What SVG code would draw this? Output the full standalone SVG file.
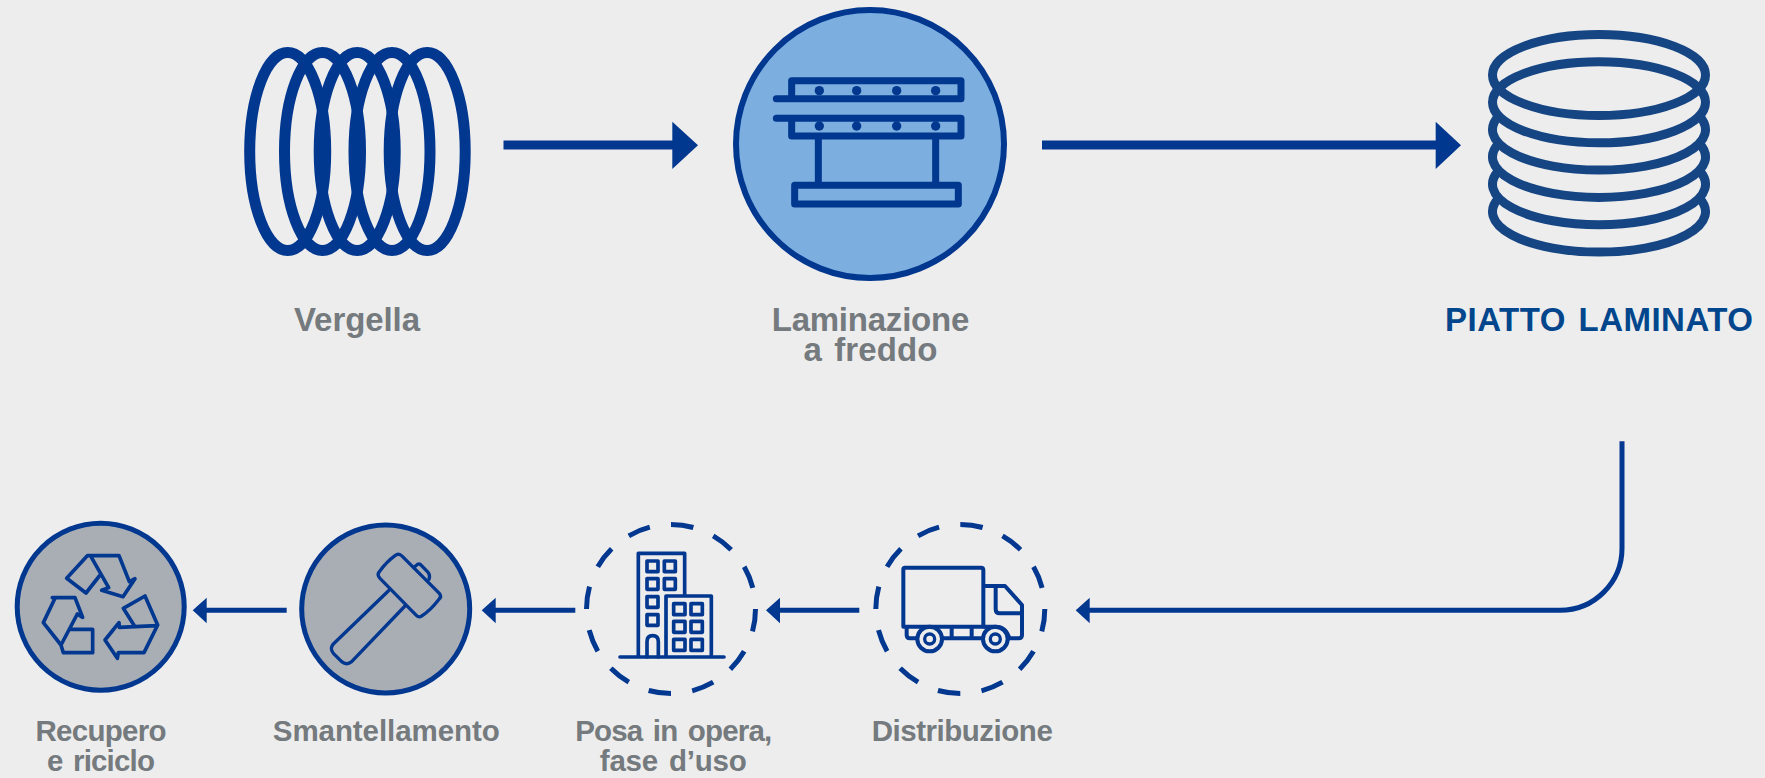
<svg xmlns="http://www.w3.org/2000/svg" width="1765" height="778" viewBox="0 0 1765 778">
<style>
text{font-family:"Liberation Sans",Arial,sans-serif;font-weight:700;fill:#747a7d;text-anchor:middle;word-spacing:3px}
.big{font-size:33px}
.small{font-size:29.5px}
.coil{fill:none;stroke:#00378f;stroke-width:11}
.plate{fill:none;stroke:#164584;stroke-width:9}
.ring{fill:#a9aeb5;stroke:#00378f;stroke-width:5}
.dash{fill:none;stroke:#00378f;stroke-width:5}
.ico{fill:none;stroke:#00378f;stroke-linejoin:round;stroke-linecap:round}
.line{fill:none;stroke:#00378f}
.head{fill:#00378f}
</style>
<rect width="1765" height="778" fill="#ededed"/>
<g id="connectors">
<path class="line" stroke-width="9" d="M503.5 145H674"/><path class="head" d="M672.3 121.7L698 145.3L672.3 169Z"/>
<path class="line" stroke-width="9" d="M1042 145H1437"/><path class="head" d="M1435.7 121.7L1461 145.3L1435.7 169Z"/>
<path class="line" stroke-width="5" d="M1622 441.3V548.3A62 62 0 0 1 1560 610.3H1088"/><path class="head" d="M1075.7 610.3L1089.7 597.7V623.3Z"/>
<path class="line" stroke-width="5" d="M859.3 610.3H778"/><path class="head" d="M766 610.3L780 597.7V623.3Z"/>
<path class="line" stroke-width="5" d="M575.3 610.3H494"/><path class="head" d="M481.7 610.3L495.7 597.7V623.3Z"/>
<path class="line" stroke-width="5" d="M286.7 610.3H205"/><path class="head" d="M192.7 610.3L206.7 597.7V623.3Z"/>
</g>
<g id="vergella">
<ellipse class="coil" cx="287.7" cy="151.5" rx="38" ry="99"/>
<ellipse class="coil" cx="322.5" cy="151.5" rx="38" ry="99"/>
<ellipse class="coil" cx="357.2" cy="151.5" rx="38" ry="99"/>
<ellipse class="coil" cx="392" cy="151.5" rx="38" ry="99"/>
<ellipse class="coil" cx="427.2" cy="151.5" rx="38" ry="99"/>
<text class="big" x="357" y="330.7" textLength="126">Vergella</text>
</g>
<g id="laminazione">
<circle cx="870" cy="144" r="134" fill="#7cafdf" stroke="#00378f" stroke-width="6"/>
<g transform="translate(700 20) scale(.33333)" class="ico" stroke-width="21">
<path d="M229 236H783M275 225V182H783V236"/>
<path d="M229 295H783M275 305V348H783V295"/>
<path stroke-linecap="butt" d="M355 348V495M707 348V495"/>
<rect x="284" y="496" width="491" height="56"/>
<g fill="#00378f" stroke="none">
<circle cx="358" cy="212" r="14"/><circle cx="470" cy="212" r="14"/><circle cx="590" cy="212" r="14"/><circle cx="707" cy="212" r="14"/>
<circle cx="358" cy="318" r="14"/><circle cx="470" cy="318" r="14"/><circle cx="590" cy="318" r="14"/><circle cx="707" cy="318" r="14"/>
</g>
</g>
<text class="big" x="870.5" y="330.7" textLength="197.6">Laminazione</text>
<text class="big" x="870.5" y="360.7" textLength="134">a freddo</text>
</g>
<g id="piatto-laminato">
<ellipse class="plate" cx="1599" cy="75" rx="106.5" ry="40.5"/>
<ellipse class="plate" cx="1599" cy="102.3" rx="106.5" ry="40.5"/>
<path class="plate" d="M1498.7 116A106.5 40.5 0 1 0 1699.3 116"/>
<path class="plate" d="M1498.7 143.3A106.5 40.5 0 1 0 1699.3 143.3"/>
<path class="plate" d="M1498.7 170.7A106.5 40.5 0 1 0 1699.3 170.7"/>
<path class="plate" d="M1498.7 198A106.5 40.5 0 1 0 1699.3 198"/>
<text class="big" x="1599" y="330.7" textLength="308" style="fill:#00468c">PIATTO LAMINATO</text>
</g>
<g id="distribuzione">
<circle class="dash" cx="960.3" cy="609" r="84.5" pathLength="360" stroke-dasharray="15.4 14.6"/>
<g transform="translate(850 510) scale(.33333)" class="ico" stroke-width="12">
<path d="M403 350H160V178Q160 173 165 173H393Q400 173 400 180V350"/>
<path d="M403 228H465L516 285V375Q516 385 506 385H478"/>
<path d="M437 228V298Q437 310 449 310H516"/>
<path d="M170 352V375Q170 385 180 385H198M280 385H394M305 352V385M365 352V385M403 350H436Q468 350 478 385"/>
<circle cx="239" cy="387" r="37"/><circle cx="436" cy="387" r="37"/>
<circle cx="239" cy="387" r="15" stroke-width="10"/><circle cx="436" cy="387" r="15" stroke-width="10"/>
</g>
<text class="small" x="962.3" y="740.7" textLength="181">Distribuzione</text>
</g>
<g id="posa-in-opera">
<circle class="dash" cx="671" cy="609" r="84.5" pathLength="360" stroke-dasharray="15.4 14.6"/>
<g transform="translate(560 510) scale(.33333)" class="ico" stroke-width="11">
<path d="M180 441H492M235 441V130H374V258M318 441V258H454V441"/>
<rect x="261" y="153" width="33" height="32"/><rect x="313" y="153" width="33" height="32"/>
<rect x="261" y="206" width="33" height="32"/><rect x="313" y="206" width="33" height="32"/>
<rect x="261" y="260" width="33" height="32"/><rect x="261" y="314" width="33" height="32"/>
<path d="M261 441V395Q261 377 278 377Q295 377 295 395V441"/>
<rect x="341" y="281" width="34" height="33"/><rect x="393" y="281" width="34" height="33"/>
<rect x="341" y="334" width="34" height="33"/><rect x="393" y="334" width="34" height="33"/>
<rect x="341" y="388" width="34" height="33"/><rect x="393" y="388" width="34" height="33"/>
</g>
<text class="small" x="673.7" y="740.7" textLength="197">Posa in opera,</text>
<text class="small" x="673.3" y="770.7" textLength="147">fase d’uso</text>
</g>
<g id="smantellamento">
<circle class="ring" cx="385.7" cy="609" r="84"/>
<g transform="translate(270 510) scale(.33333)" class="ico" stroke-width="10">
<path d="M358 240L190 402Q178 415 190 430L215 455Q230 467 245 455L405 288"/>
<path d="M375 137Q386 128 397 139L508 250Q516 260 507 268Q480 303 455 318Q447 324 439 316L330 205Q320 195 328 185Q350 155 375 137Z"/>
<path d="M432 172L443 163Q449 160 454 166L475 188Q481 196 477 208"/>
</g>
<text class="small" x="386.3" y="740.7" textLength="227">Smantellamento</text>
</g>
<g id="recupero-riciclo">
<circle class="ring" cx="100.7" cy="606.7" r="83.5"/>
<g transform="scale(.33333) translate(0 1530)" class="ico" stroke-width="11">
<path d="M273 140L326 233L305 241L369 260L405 206L388 215L357 137H262L200 205L258 249L298 198"/>
<path d="M370 295L435 258L473 345L432 428H355L352 445L315 390L357 338L358 352L470 347M370 295L405 350"/>
<path d="M157 263H225L248 322L232 312L183 405L130 338L165 265M183 405L190 428H278V358H212"/>
</g>
<text class="small" x="101" y="740.7" textLength="131">Recupero</text>
<text class="small" x="101" y="770.7" textLength="108">e riciclo</text>
</g>
</svg>
